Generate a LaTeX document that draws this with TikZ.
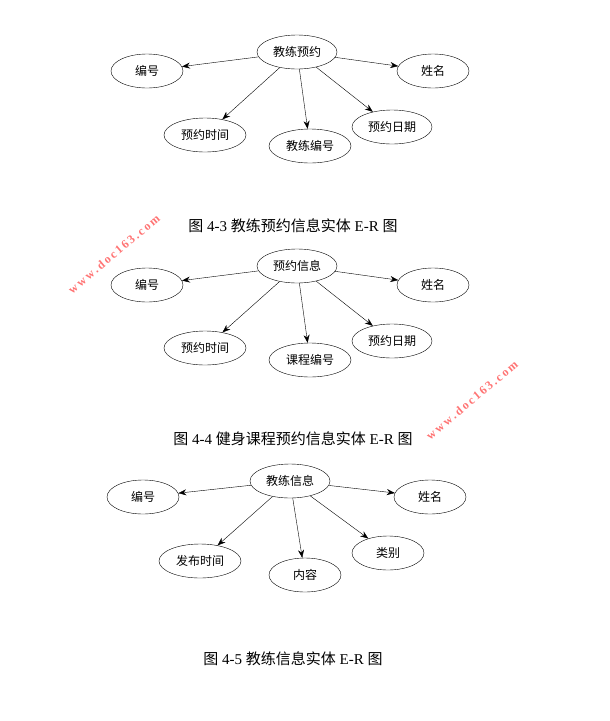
\documentclass[tikz,border=0pt]{standalone}
\usepackage{fontspec}
\setmainfont{Liberation Serif}
\newfontfamily\cjk{Noto Sans CJK SC}
\usetikzlibrary{arrows.meta,shapes.geometric}
\tikzset{
    attr/.style={draw,ellipse,minimum width=72pt,minimum height=34pt,inner sep=1pt,font=\cjk\fontsize{12}{14}\selectfont},
    ent/.style={attr,minimum width=80pt},
    rel/.style={-{Stealth[length=8pt,width=6pt]}},
    caption/.style={font=\fontsize{15}{18}\selectfont},
    mark163/.style={text=red!55,rotate=40,inner sep=0pt,font=\bfseries\fontsize{12}{14}\selectfont}
}
\begin{document}
\begin{tikzpicture}[x=1pt,y=-1pt]
    \useasboundingbox (0,0) rectangle (610,721);

    % 图 4-3
    \node[ent]  (e_1)   at (297,52)  {教练预约};
    \node[attr] (a_11)  at (147,71)  {编号};
    \node[attr] (a_12)  at (433,71)  {姓名};
    \node[attr,minimum width=82pt] (a_13) at (205,135) {预约时间};
    \node[attr,minimum width=82pt] (a_14) at (310,146) {教练编号};
    \node[attr,minimum width=80pt] (a_15) at (392,127) {预约日期};
    \foreach \a in {a_11,a_12,a_13,a_14,a_15}
        \draw[rel] (e_1) -- (\a);
    \node[caption] (c_1) at (293,226) {{\cjk 图} 4-3 {\cjk 教练预约信息实体} E-R {\cjk 图}};

    % 图 4-4
    \node[ent]  (e_2)   at (297,266) {预约信息};
    \node[attr] (a_21)  at (147,285) {编号};
    \node[attr] (a_22)  at (433,285) {姓名};
    \node[attr,minimum width=82pt] (a_23) at (205,348) {预约时间};
    \node[attr,minimum width=82pt] (a_24) at (310,360) {课程编号};
    \node[attr,minimum width=80pt] (a_25) at (392,341) {预约日期};
    \foreach \a in {a_21,a_22,a_23,a_24,a_25}
        \draw[rel] (e_2) -- (\a);
    \node[caption] (c_2) at (293,439) {{\cjk 图} 4-4 {\cjk 健身课程预约信息实体} E-R {\cjk 图}};

    % 图 4-5
    \node[ent]  (e_3)   at (290,481) {教练信息};
    \node[attr] (a_31)  at (143,497) {编号};
    \node[attr] (a_32)  at (430,497) {姓名};
    \node[attr,minimum width=82pt] (a_33) at (200,561) {发布时间};
    \node[attr] (a_34)  at (305,575) {内容};
    \node[attr] (a_35)  at (388,553) {类别};
    \foreach \a in {a_31,a_32,a_33,a_34,a_35}
        \draw[rel] (e_3) -- (\a);
    \node[caption] (c_3) at (293,659) {{\cjk 图} 4-5 {\cjk 教练信息实体} E-R {\cjk 图}};

    % watermarks
    \node[mark163] (w_1) at (114,254) {w\,w\,w\,.\,d\,o\,c\,1\,6\,3\,.\,c\,o\,m};
    \node[mark163] (w_2) at (472,400) {w\,w\,w\,.\,d\,o\,c\,1\,6\,3\,.\,c\,o\,m};
\end{tikzpicture}
\end{document}
